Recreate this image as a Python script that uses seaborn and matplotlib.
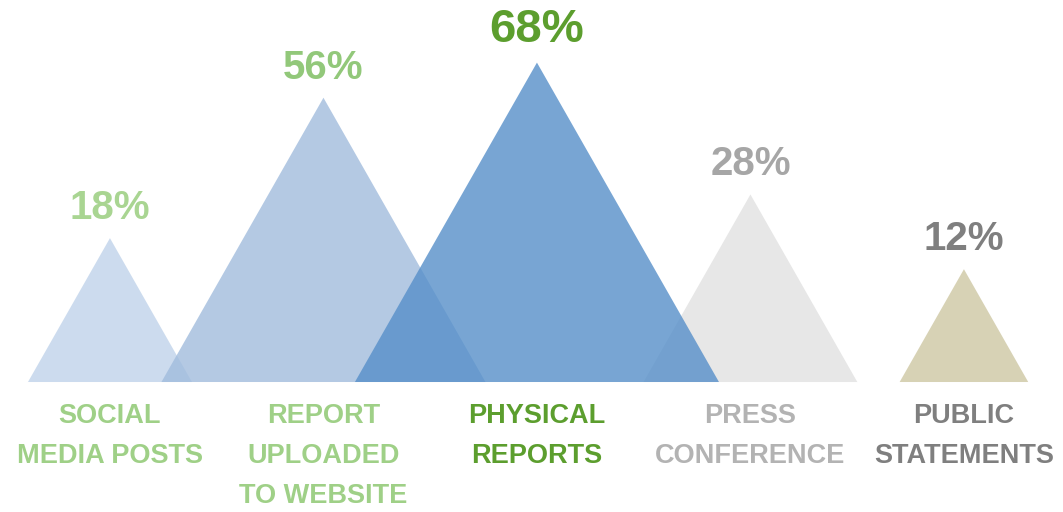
import matplotlib
matplotlib.use("Agg")
import matplotlib.pyplot as plt
import seaborn as sns
import numpy as np

# 데이터
categories = ["SOCIAL\nMEDIA POSTS", "REPORT\nUPLOADED\nTO WEBSITE", "PHYSICAL\nREPORTS",
              "PRESS\nCONFERENCE", "PUBLIC\nSTATEMENTS"]
values = [18, 56, 68, 28, 12]
value_labels = ["18%", "56%", "68%", "28%", "12%"]

# 색상 (삼각형은 alpha 0.8로 겹침 표현)
tri_colors = ["#c0d3ea", "#a1bcdd", "#568fc9", "#e1e1e1", "#cec7a3"]
pct_colors = ["#a9d592", "#92c87a", "#5c9e2e", "#a6a6a6", "#7f7f7f"]
lab_colors = ["#9fd087", "#9fd087", "#5c9e2e", "#b3b3b3", "#7f7f7f"]
pct_sizes = [29, 29, 34, 29, 29]

sns.set_theme(style="white")
plt.rcParams["font.family"] = ["Liberation Sans Narrow", "Liberation Sans", "DejaVu Sans"]

fig = plt.figure(figsize=(10.63, 5.12), dpi=100)
ax = fig.add_axes([0, 0, 1, 1])

# 높이는 power scale(지수 0.6) -> 면적이 값에 비례하도록
power = 0.6
heights = np.array(values, dtype=float) ** power
half_w = 0.0678 * heights

for i, (h, w) in enumerate(zip(heights, half_w)):
    ax.fill([i - w, i, i + w], [0, h, 0], color=tri_colors[i], alpha=0.8, lw=0, zorder=2 + (i == 2))
    ax.annotate(value_labels[i], xy=(i, h), xytext=(0, 8), textcoords="offset points",
                ha="center", va="bottom", fontsize=pct_sizes[i], fontweight="bold",
                color=pct_colors[i])
    ax.annotate(categories[i], xy=(i, 0), xytext=(0, -15), textcoords="offset points",
                ha="center", va="top", fontsize=19.5, fontweight="bold",
                color=lab_colors[i], linespacing=1.7)

ax.set_xlim(-0.515, 4.464)
ax.set_ylim(-5.118, 15.04)
ax.axis("off")
sns.despine(left=True, bottom=True)

fig.savefig("out.png", dpi=100, facecolor="white")
